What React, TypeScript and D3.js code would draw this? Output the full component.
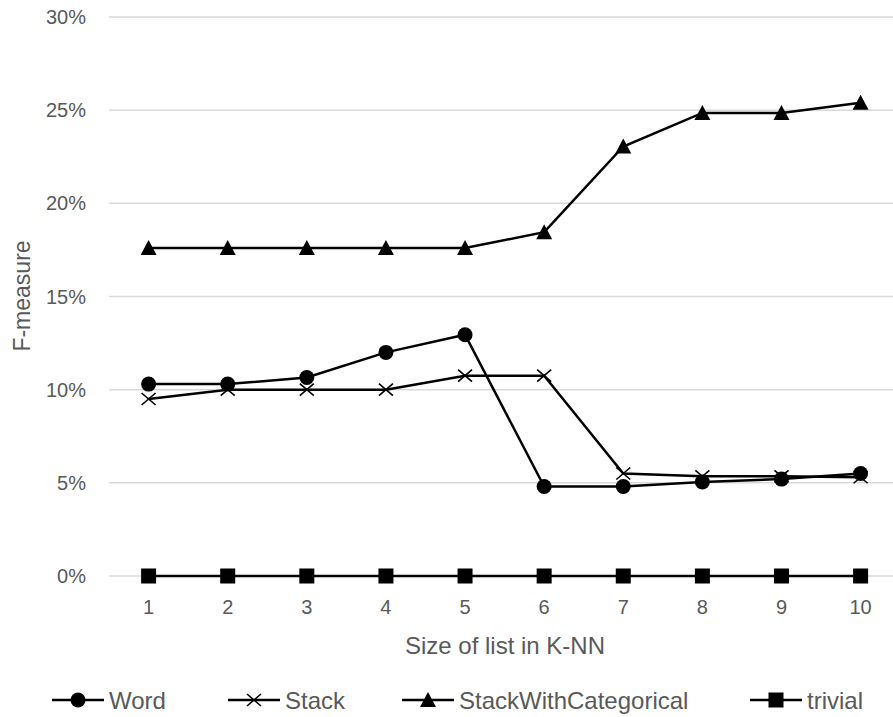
import React from "react";
import * as d3 from "d3";

const categories = [1, 2, 3, 4, 5, 6, 7, 8, 9, 10];
const wordValues = [10.3, 10.3, 10.65, 12.0, 12.95, 4.8, 4.8, 5.05, 5.2, 5.5];
const stackValues = [9.5, 10.0, 10.0, 10.0, 10.75, 10.75, 5.5, 5.35, 5.35, 5.3];
const stackCatValues = [17.6, 17.6, 17.6, 17.6, 17.6, 18.45, 23.05, 24.85, 24.85, 25.4];
const trivialValues = [0, 0, 0, 0, 0, 0, 0, 0, 0, 0];
const yTicks = [0, 5, 10, 15, 20, 25, 30];

type Marker = "circle" | "cross" | "triangle" | "square";
const series: { name: string; values: number[]; marker: Marker }[] = [
  { name: "Word", values: wordValues, marker: "circle" },
  { name: "Stack", values: stackValues, marker: "cross" },
  { name: "StackWithCategorical", values: stackCatValues, marker: "triangle" },
  { name: "trivial", values: trivialValues, marker: "square" },
];

const W = 893;
const H = 717;
const FONT = "'Liberation Sans', Arial, sans-serif";
const TEXT = "#595959";

function MarkerShape({ type, x, y }: { type: Marker; x: number; y: number }) {
  if (type === "circle") return <circle cx={x} cy={y} r={7.5} fill="#000" />;
  if (type === "square")
    return <rect x={x - 7.5} y={y - 7.5} width={15} height={15} fill="#000" />;
  if (type === "triangle")
    return (
      <path
        d={`M${x},${y - 8}L${x + 8},${y + 7}L${x - 8},${y + 7}Z`}
        fill="#000"
      />
    );
  return (
    <path
      d={`M${x - 7},${y - 6}L${x + 7},${y + 6}M${x - 7},${y + 6}L${x + 7},${y - 6}`}
      stroke="#000"
      strokeWidth={1.6}
      fill="none"
    />
  );
}

export default function App() {
  const x = d3.scaleLinear().domain([1, 10]).range([148.6, 860.6]);
  const y = d3.scaleLinear().domain([0, 30]).range([576, 17]);
  const gridLeft = 109;
  const gridRight = 900;

  const line = d3
    .line<number>()
    .x((_, i) => x(categories[i]))
    .y((d) => y(d));

  const legendItems = [
    { marker: 78, name: series[0] },
    { marker: 254, name: series[1] },
    { marker: 428, name: series[2] },
    { marker: 776, name: series[3] },
  ];

  return (
    <svg
      width={W}
      height={H}
      style={{ position: "absolute", left: 0, top: 0, background: "#fff" }}
      fontFamily={FONT}
    >
      {yTicks.map((t) => (
        <g key={t}>
          <line
            x1={gridLeft}
            x2={gridRight}
            y1={y(t)}
            y2={y(t)}
            stroke="#d9d9d9"
            strokeWidth={1.5}
          />
          <text
            x={86}
            y={y(t)}
            textAnchor="end"
            dominantBaseline="central"
            fontSize={20}
            fill={TEXT}
          >
            {t}%
          </text>
        </g>
      ))}

      {categories.map((c) => (
        <text
          key={c}
          x={x(c)}
          y={607}
          textAnchor="middle"
          dominantBaseline="central"
          fontSize={20}
          fill={TEXT}
        >
          {c}
        </text>
      ))}

      <text
        x={505}
        y={645}
        textAnchor="middle"
        dominantBaseline="central"
        fontSize={24}
        fill={TEXT}
      >
        Size of list in K-NN
      </text>
      <text
        transform={`translate(22,296) rotate(-90)`}
        textAnchor="middle"
        dominantBaseline="central"
        fontSize={23}
        fill={TEXT}
      >
        F-measure
      </text>

      {series.map((s) => (
        <g key={s.name}>
          <path d={line(s.values) ?? ""} fill="none" stroke="#000" strokeWidth={2.5} />
          {s.values.map((v, i) => (
            <MarkerShape key={i} type={s.marker} x={x(categories[i])} y={y(v)} />
          ))}
        </g>
      ))}

      {legendItems.map((it) => (
        <g key={it.name.name}>
          <line
            x1={it.marker - 26}
            x2={it.marker + 26}
            y1={700}
            y2={700}
            stroke="#000"
            strokeWidth={2.5}
          />
          <MarkerShape type={it.name.marker} x={it.marker} y={700} />
          <text
            x={it.marker + 31}
            y={700}
            dominantBaseline="central"
            fontSize={24}
            fill={TEXT}
          >
            {it.name.name}
          </text>
        </g>
      ))}
    </svg>
  );
}
